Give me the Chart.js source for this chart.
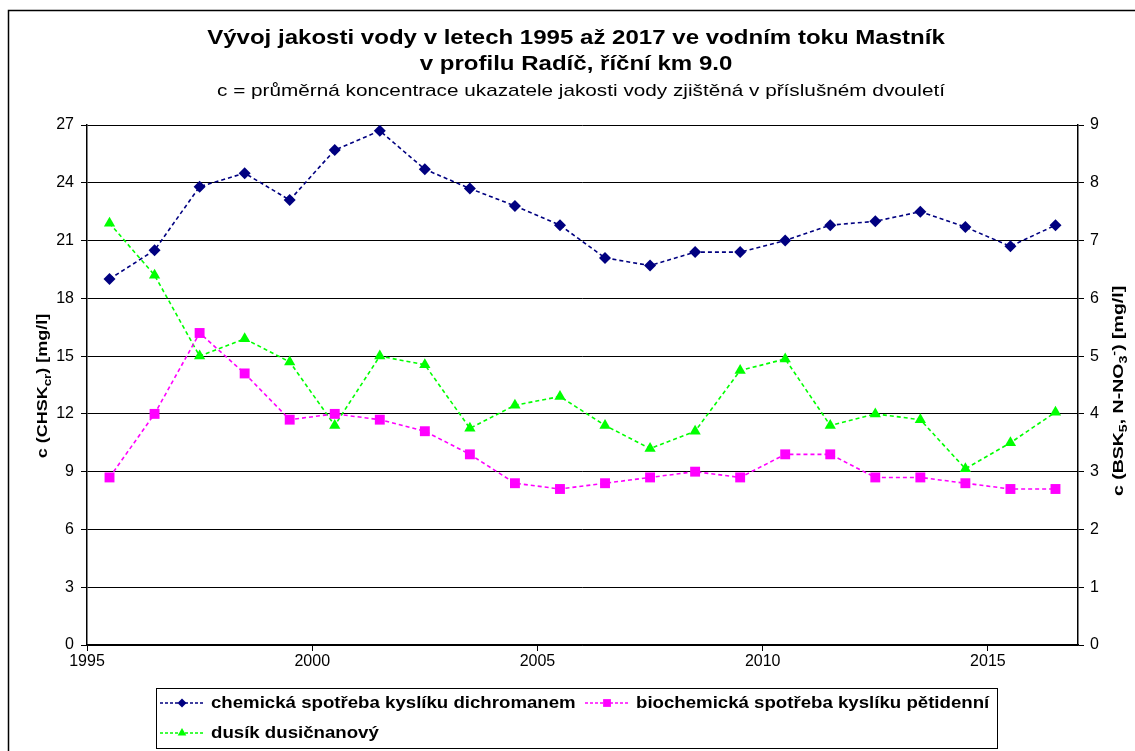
<!DOCTYPE html>
<html><head><meta charset="utf-8">
<script src="https://cdn.jsdelivr.net/npm/chart.js@4"></script>
<style>html,body{margin:0;padding:0;background:#fff}#wrap{width:1135px;height:751px}</style>
</head><body><div id="wrap"><canvas id="c" width="1135" height="751"></canvas></div>
<script>
// Midpoints of two-year periods (1995–1996 … 2016–2017)
const periods = [1995.5,1996.5,1997.5,1998.5,1999.5,2000.5,2001.5,2002.5,2003.5,2004.5,2005.5,2006.5,2007.5,2008.5,2009.5,2010.5,2011.5,2012.5,2013.5,2014.5,2015.5,2016.5];
const chskCr = [19.0,20.5,23.8,24.5,23.1,25.7,26.7,24.7,23.7,22.8,21.8,20.1,19.7,20.4,20.4,21.0,21.8,22.0,22.5,21.7,20.7,21.8];
const bsk5   = [2.9,4.0,5.4,4.7,3.9,4.0,3.9,3.7,3.3,2.8,2.7,2.8,2.9,3.0,2.9,3.3,3.3,2.9,2.9,2.8,2.7,2.7];
const nNO3   = [7.3,6.4,5.0,5.3,4.9,3.8,5.0,4.85,3.75,4.15,4.3,3.8,3.4,3.7,4.75,4.95,3.8,4.0,3.9,3.05,3.5,4.03];
const seriesNames = ['chemická spotřeba kyslíku dichromanem','biochemická spotřeba kyslíku pětidenní','dusík dusičnanový'];
const xTicks = [1995,2000,2005,2010,2015];
const leftTicks = [0,3,6,9,12,15,18,21,24,27];
const rightTicks = [0,1,2,3,4,5,6,7,8,9];
const titleLines = ['Vývoj jakosti vody v letech 1995 až 2017 ve vodním toku Mastník','v profilu Radíč, říční km 9.0'];
const subtitle = 'c = průměrná koncentrace ukazatele jakosti vody zjištěná v příslušném dvouletí';

const FONT = '"Liberation Sans", Arial, sans-serif';
const colors = ['#000080','#FF00FF','#00FF00'];
const styles = ['rectRot','rect','triangle'];
const radii = [6,7,6.5];

function pts(arr){ return periods.map((x,i)=>({x:x,y:arr[i]})); }

const datasets = [chskCr,bsk5,nNO3].map((arr,i)=>({
  label: seriesNames[i],
  data: pts(arr),
  yAxisID: i===0?'yL':'yR',
  borderColor: colors[i], backgroundColor: colors[i],
  borderWidth: 1.6, borderDash:[4,3],
  pointStyle: styles[i], pointRadius: radii[i], pointBorderWidth: 0,
  pointBackgroundColor: colors[i], tension:0
}));

function partsDraw(ctx, parts, x, y, baseSize, doDraw){
  let cx = x;
  for(const p of parts){
    const sz = p.mode==='n'?baseSize:Math.round(baseSize*0.7);
    ctx.font = 'bold '+sz+'px '+FONT;
    const dy = p.mode==='sub'? baseSize*0.3 : p.mode==='sup'? -baseSize*0.35 : 0;
    if(doDraw) ctx.fillText(p.t, cx, y+dy);
    cx += ctx.measureText(p.t).width;
  }
  return cx-x;
}

function stretchedText(ctx, txt, cx, cy, font, sx, align){
  ctx.save();
  ctx.font = font;
  ctx.translate(cx, cy);
  ctx.scale(sx, 1);
  ctx.textAlign = align; ctx.textBaseline='middle';
  ctx.fillText(txt, 0, 0);
  ctx.restore();
}

const deco = {
  id:'deco',
  afterDraw(chart){
    const ctx = chart.ctx;
    ctx.save();
    // outer border
    ctx.strokeStyle='#000'; ctx.lineWidth=1.5;
    ctx.beginPath(); ctx.moveTo(8.5,760); ctx.lineTo(8.5,10.5); ctx.lineTo(1140,10.5); ctx.stroke();
    // titles
    ctx.fillStyle='#000';
    stretchedText(ctx, titleLines[0], 576, 38, 'bold 21px '+FONT, 1.145, 'center');
    stretchedText(ctx, titleLines[1], 576, 64, 'bold 21px '+FONT, 1.145, 'center');
    stretchedText(ctx, subtitle, 581, 91, '17px '+FONT, 1.22, 'center');
    // axis titles
    ctx.textAlign='left'; ctx.textBaseline='middle';
    const lParts=[{t:'c (CHSK',mode:'n'},{t:'cr',mode:'sub'},{t:') [mg/l]',mode:'n'}];
    const rParts=[{t:'c (BSK',mode:'n'},{t:'5',mode:'sub'},{t:', N-NO',mode:'n'},{t:'3',mode:'sub'},{t:'-',mode:'sup'},{t:') [mg/l]',mode:'n'}];
    const bs=15;
    ctx.save(); ctx.translate(43,386); ctx.rotate(-Math.PI/2); ctx.scale(1.2,1);
    const lw=partsDraw(ctx,lParts,0,0,bs,false); partsDraw(ctx,lParts,-lw/2,0,bs,true); ctx.restore();
    ctx.save(); ctx.translate(1119,391); ctx.rotate(-Math.PI/2); ctx.scale(1.3,1);
    const rw=partsDraw(ctx,rParts,0,0,bs,false); partsDraw(ctx,rParts,-rw/2,0,bs,true); ctx.restore();
    // legend
    ctx.strokeStyle='#000'; ctx.lineWidth=1;
    ctx.strokeRect(156.5,688.5,841,60);
    const items=[{x:160,y:703,i:0},{x:585,y:703,i:1},{x:160,y:733,i:2}];
    for(const it of items){
      ctx.strokeStyle=colors[it.i]; ctx.lineWidth=1.5; ctx.setLineDash([3,2]);
      ctx.beginPath(); ctx.moveTo(it.x,it.y); ctx.lineTo(it.x+44,it.y); ctx.stroke();
      ctx.setLineDash([]);
      ctx.fillStyle=colors[it.i];
      Chart.helpers.drawPoint(ctx,{pointStyle:styles[it.i],radius:radii[it.i]-1.5,borderWidth:0},it.x+22,it.y);
      ctx.fillStyle='#000';
      stretchedText(ctx, seriesNames[it.i], it.x+51, it.y+1, 'bold 16px '+FONT, 1.165, 'left');
    }
    ctx.restore();
  }
};

new Chart(document.getElementById('c'),{
  type:'line',
  data:{datasets},
  options:{
    responsive:false, animation:false,
    layout:{padding:{top:125,left:0,right:0,bottom:0}},
    plugins:{legend:{display:false},title:{display:false},tooltip:{enabled:false}},
    scales:{
      x:{type:'linear',min:1995,max:2017,
        afterBuildTicks(s){ s.ticks = xTicks.map(v=>({value:v})); },
        afterFit(s){ s.height=106; },
        ticks:{includeBounds:false,color:'#000',font:{family:FONT,size:16},padding:1,maxRotation:0,callback:v=>String(v)},
        grid:{drawOnChartArea:false,color:'#000',tickLength:6,lineWidth:1},
        border:{display:true,color:'#000',width:1.5}
      },
      yL:{position:'left',min:0,max:27,
        afterBuildTicks(s){ s.ticks = leftTicks.map(v=>({value:v})); },
        afterFit(s){ s.width=87; },
        ticks:{color:'#000',font:{family:FONT,size:16},padding:7},
        grid:{color:'#000',tickLength:6,lineWidth:1},
        border:{display:true,color:'#000',width:1.5}
      },
      yR:{position:'right',min:0,max:9,
        afterBuildTicks(s){ s.ticks = rightTicks.map(v=>({value:v})); },
        afterFit(s){ s.width=57; },
        ticks:{color:'#000',font:{family:FONT,size:16},padding:6},
        grid:{drawOnChartArea:false,color:'#000',tickLength:6,lineWidth:1},
        border:{display:true,color:'#000',width:1.5}
      }
    }
  },
  plugins:[deco]
});
</script></body></html>
